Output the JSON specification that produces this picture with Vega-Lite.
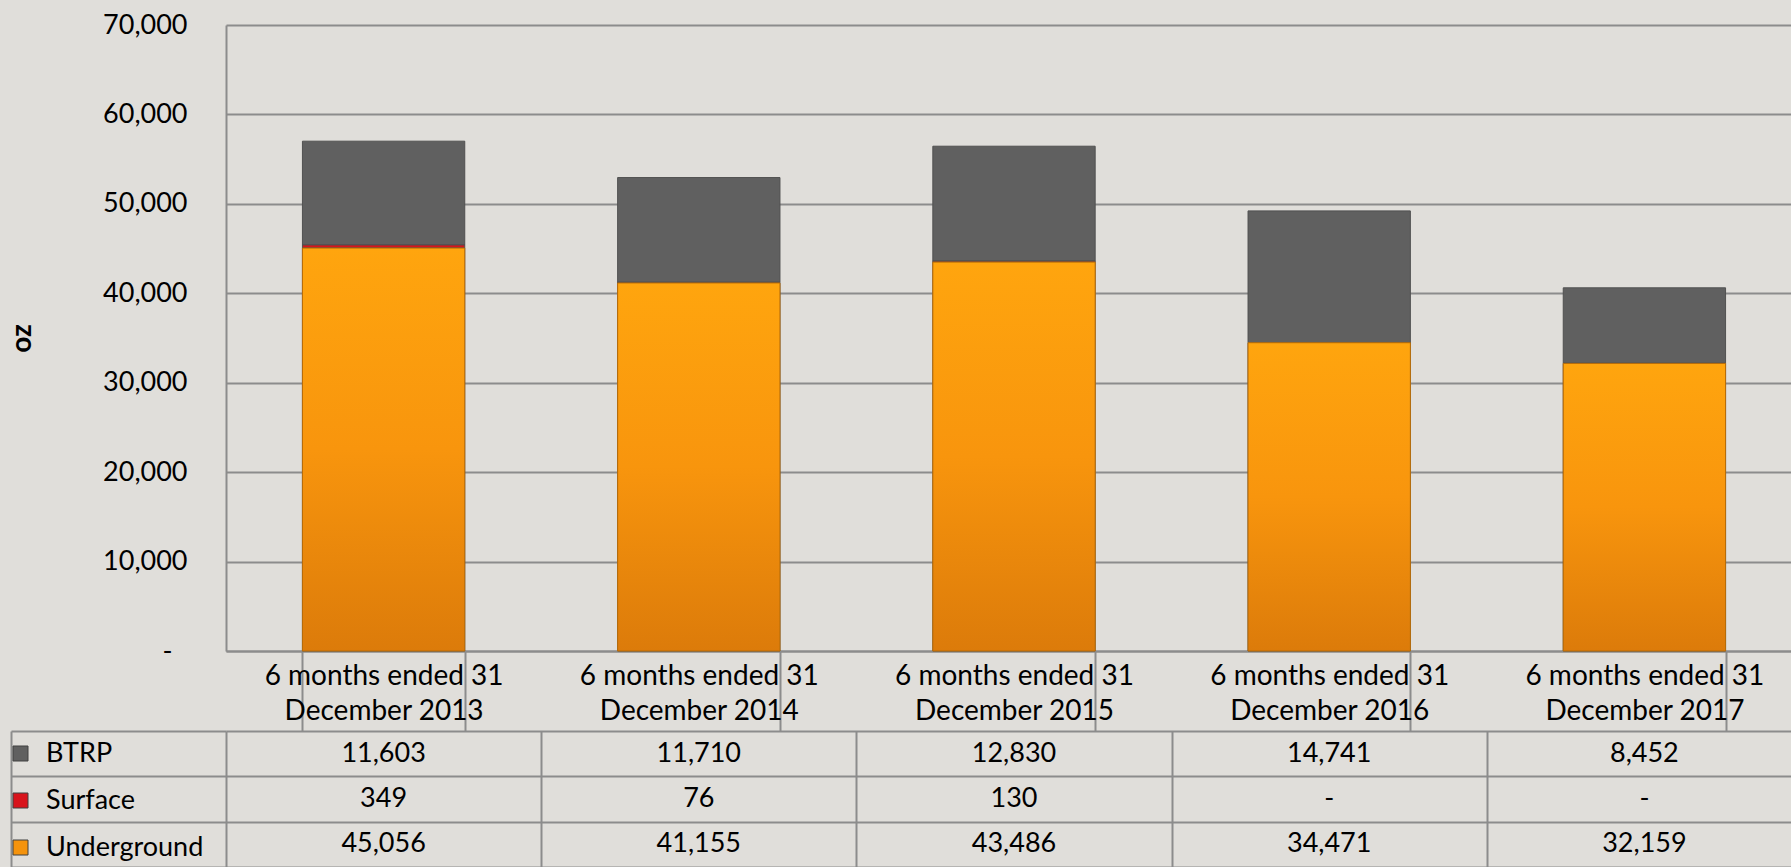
{
  "$schema": "https://vega.github.io/schema/vega-lite/v6.json",
  "autosize": {"type": "none"},
  "padding": {"left": 226, "top": 25, "right": 1565, "bottom": 842},
  "background": "#e0deda",
  "config": {
    "font": "Lato",
    "view": {"stroke": null},
    "axis": {"labelFont": "Lato", "labelColor": "#000000", "labelFontSize": 27, "gridColor": "#8c8c8c", "gridWidth": 2, "domainColor": "#8c8c8c", "domainWidth": 2, "tickColor": "#8c8c8c", "tickWidth": 2},
    "legend": {"labelFont": "Lato", "labelColor": "#000000"}
  },
  "data": {
    "values": [
      {"period": "6 months ended 31 December 2013", "series": "BTRP", "value": 11603},
      {"period": "6 months ended 31 December 2013", "series": "Surface", "value": 349},
      {"period": "6 months ended 31 December 2013", "series": "Underground", "value": 45056},
      {"period": "6 months ended 31 December 2014", "series": "BTRP", "value": 11710},
      {"period": "6 months ended 31 December 2014", "series": "Surface", "value": 76},
      {"period": "6 months ended 31 December 2014", "series": "Underground", "value": 41155},
      {"period": "6 months ended 31 December 2015", "series": "BTRP", "value": 12830},
      {"period": "6 months ended 31 December 2015", "series": "Surface", "value": 130},
      {"period": "6 months ended 31 December 2015", "series": "Underground", "value": 43486},
      {"period": "6 months ended 31 December 2016", "series": "BTRP", "value": 14741},
      {"period": "6 months ended 31 December 2016", "series": "Surface", "value": 0},
      {"period": "6 months ended 31 December 2016", "series": "Underground", "value": 34471},
      {"period": "6 months ended 31 December 2017", "series": "BTRP", "value": 8452},
      {"period": "6 months ended 31 December 2017", "series": "Surface", "value": 0},
      {"period": "6 months ended 31 December 2017", "series": "Underground", "value": 32159}
    ]
  },
  "vconcat": [
    {
      "width": 1565,
      "height": 626,
      "layer": [
        {
          "mark": {"type": "bar", "stroke": "#505050", "strokeWidth": 1},
          "encoding": {
            "x": {
              "field": "period", "type": "nominal", "sort": null,
              "scale": {"range": [0, 1576], "paddingInner": 0.485, "paddingOuter": 0.2425},
              "axis": {
                "title": null, "labelAngle": 0, "grid": false,
                "ticks": true, "tickBand": "extent", "tickSize": 80,
                "labelPadding": -69, "labelBaseline": "top", "labelLineHeight": 35, "labelFontSize": 28,
                "labelLimit": 0, "labelOverlap": false,
                "labelExpr": "[slice(datum.label, 0, 17), slice(datum.label, 18)]"
              }
            },
            "y": {
              "field": "value", "type": "quantitative", "stack": "zero",
              "scale": {"domain": [0, 70000], "nice": false},
              "axis": {
                "title": "oz", "titleFont": "Lato", "titleFontSize": 28, "titleFontWeight": "bold", "titleColor": "#000000", "titlePadding": 66,
                "values": [0, 10000, 20000, 30000, 40000, 50000, 60000, 70000],
                "ticks": false, "grid": true,
                "labelPadding": {"condition": {"test": "datum.value == 0", "value": 54}, "value": 39},
                "labelExpr": "datum.value == 0 ? '-' : format(datum.value, ',')"
              }
            },
            "color": {
              "field": "series", "type": "nominal",
              "scale": {"domain": ["BTRP", "Surface", "Underground"], "range": ["#606060", "#d8141c", "#f5930c"]},
              "legend": {
                "title": null, "orient": "none", "legendX": -219, "legendY": 715,
                "symbolType": "square", "symbolSize": 225, "symbolStrokeColor": "#404040", "symbolStrokeWidth": 1,
                "labelFontSize": 27, "labelOffset": 12, "rowPadding": 19, "padding": 0
              }
            },
            "order": {"field": "series", "sort": "descending"}
          }
        },
        {
          "transform": [{"filter": "datum.series == 'Underground'"}],
          "mark": {
            "type": "bar", "stroke": "#b86c08", "strokeWidth": 1,
            "fill": {"gradient": "linear", "x1": 0, "y1": 0, "x2": 0, "y2": 1, "stops": [
              {"offset": 0, "color": "#ffa50e"},
              {"offset": 0.5, "color": "#f8950d"},
              {"offset": 1, "color": "#dc7b0a"}
            ]}
          },
          "encoding": {
            "x": {"field": "period", "type": "nominal", "sort": null},
            "y": {"field": "value", "type": "quantitative"}
          }
        }
      ]
    },
    {
      "width": 1565,
      "height": 136,
      "transform": [
        {"calculate": "datum.value == 0 ? '-' : format(datum.value, ',')", "as": "label"}
      ],
      "mark": {"type": "text", "fontSize": 27, "font": "Lato", "color": "#000000"},
      "encoding": {
        "x": {
          "field": "period", "type": "nominal", "sort": null,
          "scale": {"range": [0, 1576], "paddingInner": 0, "paddingOuter": 0},
          "axis": {"title": null, "labels": false, "ticks": false, "domain": false, "grid": true, "tickBand": "extent"}
        },
        "y": {
          "field": "series", "type": "nominal", "sort": ["BTRP", "Surface", "Underground"],
          "axis": {"title": null, "labels": false, "offset": 215, "domain": true, "ticks": true, "tickSize": -215, "tickBand": "extent", "grid": true}
        },
        "text": {"field": "label"}
      }
    }
  ],
  "spacing": 80,
  "bounds": "flush"
}
